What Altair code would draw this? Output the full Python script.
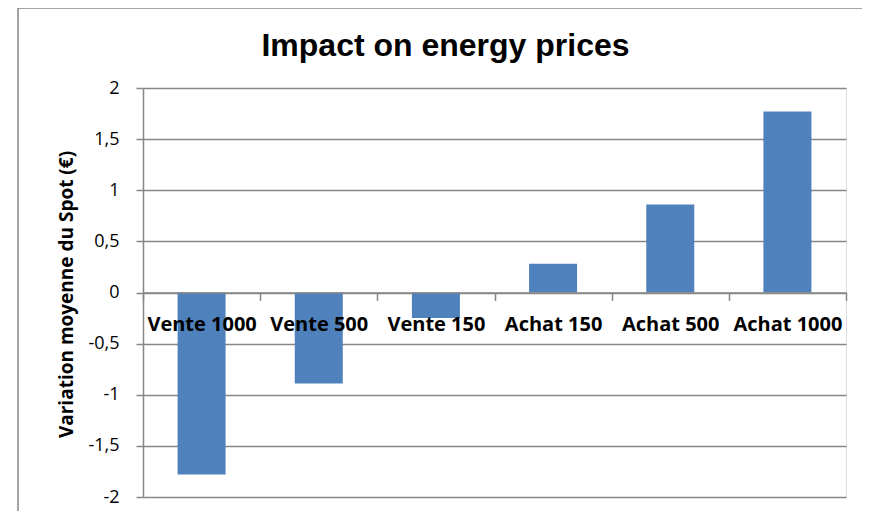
import altair as alt
import pandas as pd

categories = ["Vente 1000", "Vente 500", "Vente 150", "Achat 150", "Achat 500", "Achat 1000"]
values = [-1.78, -0.89, -0.25, 0.28, 0.86, 1.77]
y_ticks = [-2, -1.5, -1, -0.5, 0, 0.5, 1, 1.5, 2]

df = pd.DataFrame({"cat": categories, "val": values})

W, H = 703, 409
ZERO_Y = H / 2

frame = alt.Chart(pd.DataFrame({"a": [0]})).mark_rect(
    fill=None, stroke="#868686", strokeWidth=1.5, clip=False
).encode(
    x=alt.value(-125), x2=alt.value(780),
    y=alt.value(-80), y2=alt.value(460)
)

bars = alt.Chart(df).mark_bar(color="#4F81BD", size=48).encode(
    x=alt.X("cat:N", sort=categories, title=None,
            scale=alt.Scale(paddingInner=0, paddingOuter=0),
            axis=alt.Axis(orient="bottom", offset=-(H - ZERO_Y), labelAngle=0,
                          domainColor="#868686", domainWidth=1.5,
                          tickColor="#868686", tickWidth=1.5, tickSize=8,
                          tickBand="extent", labelPadding=14,
                          labelFont="Open Sans", labelFontWeight="bold",
                          labelFontSize=20, labelColor="black", zindex=2)),
    y=alt.Y("val:Q", title="Variation moyenne du Spot (€)",
            scale=alt.Scale(domain=[-2, 2], nice=False),
            axis=alt.Axis(values=y_ticks,
                          labelExpr="replace(replace(format(datum.value, '.1~f'), '.', ','), '\u2212', '-')",
                          grid=True, gridColor="#868686", gridWidth=1.5,
                          domainColor="#868686", domainWidth=1.5,
                          tickColor="#868686", tickWidth=1.5, tickSize=7,
                          labelPadding=17, labelFont="Open Sans",
                          labelFontSize=18, labelColor="black",
                          titleFont="Open Sans", titleFontWeight="bold",
                          titleFontSize=19, titleColor="black",
                          titleAngle=-90, titleAlign="center", titleBaseline="middle",
                          titleX=-77, titleY=206))
)

chart = alt.layer(frame, bars).properties(
    width=W, height=H,
    title=alt.TitleParams("Impact on energy prices", font="Liberation Sans",
                          fontSize=32, fontWeight="bold", color="black",
                          anchor="middle", dx=-49, offset=0, dy=81,
                          baseline="alphabetic"),
    autosize=alt.AutoSizeParams(type="none"),
    padding={"left": 135, "top": 80, "right": 16, "bottom": 14},
).configure_view(stroke=None).configure(background="white")

chart.save("out.html", embed_options={"renderer": "svg", "actions": False})
